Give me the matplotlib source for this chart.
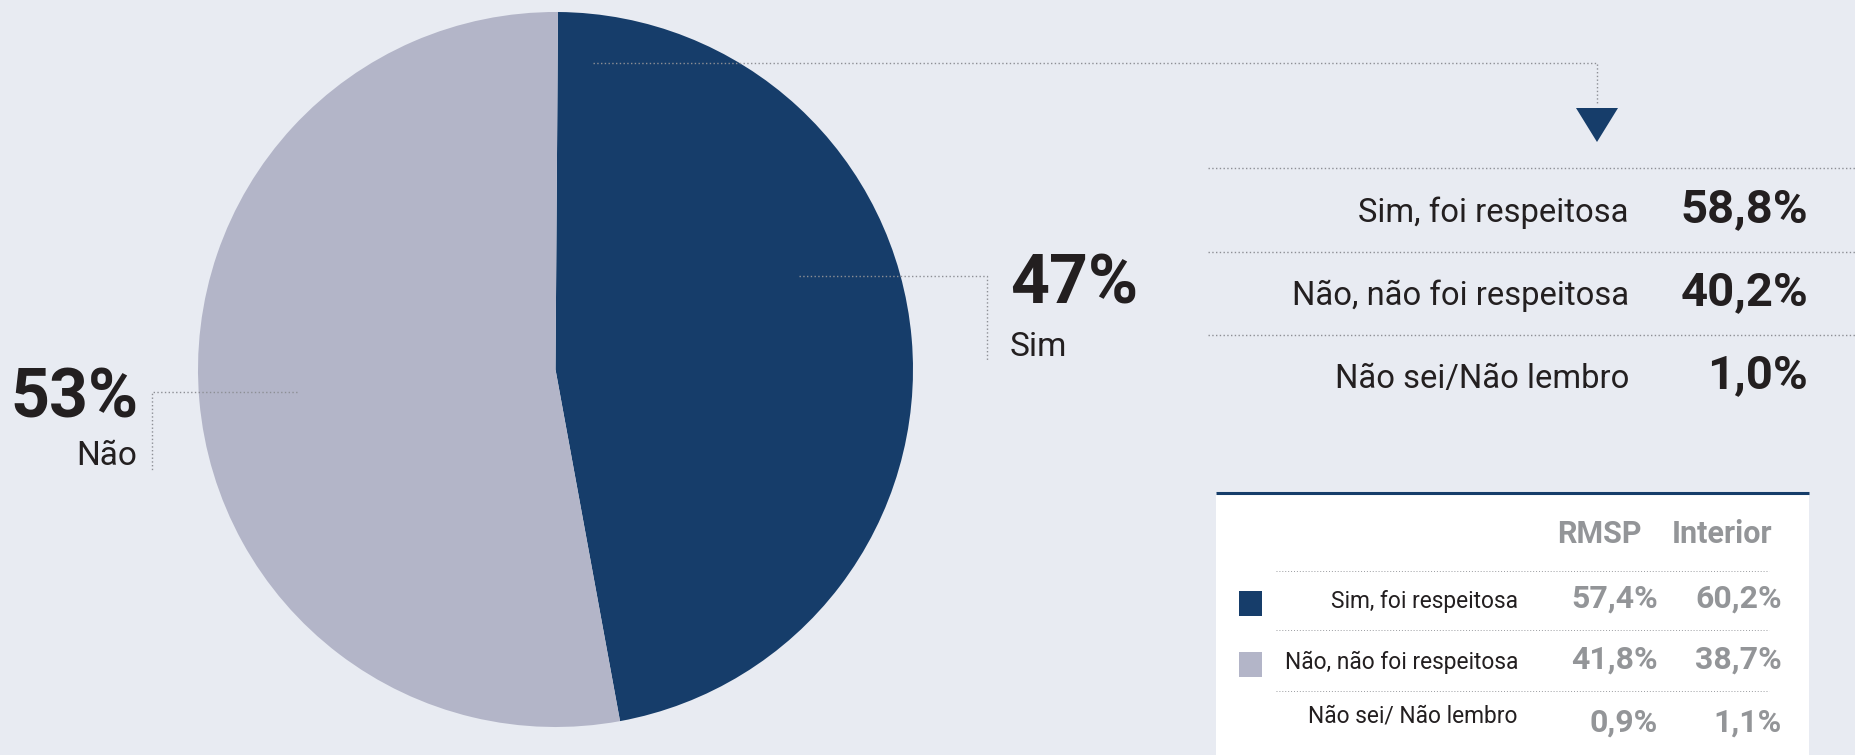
import matplotlib
matplotlib.use("Agg")
import matplotlib.pyplot as plt
from matplotlib.patches import Polygon, Rectangle

# --- data ---
pie_labels = ["Sim", "Não"]
pie_values = [47, 53]

answers = ["Sim, foi respeitosa", "Não, não foi respeitosa", "Não sei/Não lembro"]
answer_pct = [58.8, 40.2, 1.0]

table_cols = ["RMSP", "Interior"]
table_rows = ["Sim, foi respeitosa", "Não, não foi respeitosa", "Não sei/ Não lembro"]
rmsp_pct = [57.4, 41.8, 0.9]
interior_pct = [60.2, 38.7, 1.1]

NAVY = "#163d6a"
GREY_PIE = "#b3b5c8"
BG = "#e8ebf2"
INK = "#231f20"
GREY_TXT = "#939598"
DOT = "#8d8f95"

plt.rcParams["font.family"] = ["Roboto", "DejaVu Sans"]

W, H = 1856, 755


def Y(y):
    # pixel row (from top) -> data y
    return H - y


def pct(v, dec=1):
    return f"{v:.{dec}f}".replace(".", ",") + "%"


fig = plt.figure(figsize=(W / 100, H / 100), dpi=100, facecolor=BG)
ax = fig.add_axes([0, 0, 1, 1])
ax.set_facecolor(BG)

# pie, Sim starts at 12 o'clock going clockwise
cx, cy, r = 555.5, Y(369.5), 357.5
ax.pie(pie_values, colors=[NAVY, GREY_PIE], startangle=89.6, counterclock=False,
       center=(cx, cy), radius=r, wedgeprops=dict(linewidth=0))

ax.set_xlim(0, W)
ax.set_ylim(0, H)
ax.set_aspect("auto")
ax.axis("off")

dot_kw = dict(color=DOT, lw=1.0, linestyle=(0, (1, 1.7)))

# leader lines for the pie labels
ax.plot([799, 987, 987], [Y(276), Y(276), Y(361)], **dot_kw)
ax.plot([297, 152, 152], [Y(392), Y(392), Y(472)], **dot_kw)
ax.text(1010, Y(303), f"{pie_values[0]}%", fontsize=49, fontweight="bold", color=INK,
        ha="left", va="baseline")
ax.text(1010, Y(356), pie_labels[0], fontsize=24, color=INK, ha="left", va="baseline")
ax.text(139, Y(418), f"{pie_values[1]}%", fontsize=49, fontweight="bold", color=INK,
        ha="right", va="baseline")
ax.text(137, Y(465), pie_labels[1], fontsize=24, color=INK, ha="right", va="baseline")

# arrow from the Sim slice to the breakdown
ax.plot([593, 1597, 1597], [Y(63), Y(63), Y(105)], **dot_kw)
ax.add_patch(Polygon([(1576, Y(108)), (1618, Y(108)), (1597, Y(142))],
                     closed=True, facecolor=NAVY, edgecolor="none"))

# breakdown list
sep_y = [168, 252, 335]
base_y = [222, 305, 388]
for sy in sep_y:
    ax.plot([1208, W], [Y(sy), Y(sy)], **dot_kw)
for lab, v, by in zip(answers, answer_pct, base_y):
    ax.text(1629, Y(by), lab, fontsize=23.6, color=INK, ha="right", va="baseline")
    ax.text(1808, Y(by), pct(v), fontsize=34, fontweight="bold", color=INK,
            ha="right", va="baseline")

# regional table
ax.add_patch(Rectangle((1216, 0), 1809 - 1216, Y(493), facecolor="white", edgecolor="none"))
ax.plot([1216, 1809], [Y(493), Y(493)], color=NAVY, lw=2.2, solid_capstyle="butt")

col_x = [1658, 1782]
head_x = [1642, 1772]
for name, hx in zip(table_cols, head_x):
    ax.text(hx, Y(543), name, fontsize=22, fontweight="bold", color=GREY_TXT,
            ha="right", va="baseline")

tdot_kw = dict(color="#9a9ca0", lw=0.7, linestyle=(0, (1, 2)))
for ty in [571, 630, 691]:
    ax.plot([1276, 1769], [Y(ty), Y(ty)], **tdot_kw)

row_base = [608, 669, 722]
val_base = [608, 669, 732]
swatch = [NAVY, GREY_PIE, None]
for lab, a, b, rb, vb, sw in zip(table_rows, rmsp_pct, interior_pct, row_base, val_base, swatch):
    if sw:
        ax.add_patch(Rectangle((1239, Y(rb + 8)), 23, 25, facecolor=sw, edgecolor="none"))
    ax.text(1518, Y(rb), lab, fontsize=16.4, color=INK, ha="right", va="baseline")
    ax.text(col_x[0], Y(vb), pct(a), fontsize=23, fontweight="bold", color=GREY_TXT,
            ha="right", va="baseline")
    ax.text(col_x[1], Y(vb), pct(b), fontsize=23, fontweight="bold", color=GREY_TXT,
            ha="right", va="baseline")

fig.savefig("out.png", dpi=100, facecolor=BG)
